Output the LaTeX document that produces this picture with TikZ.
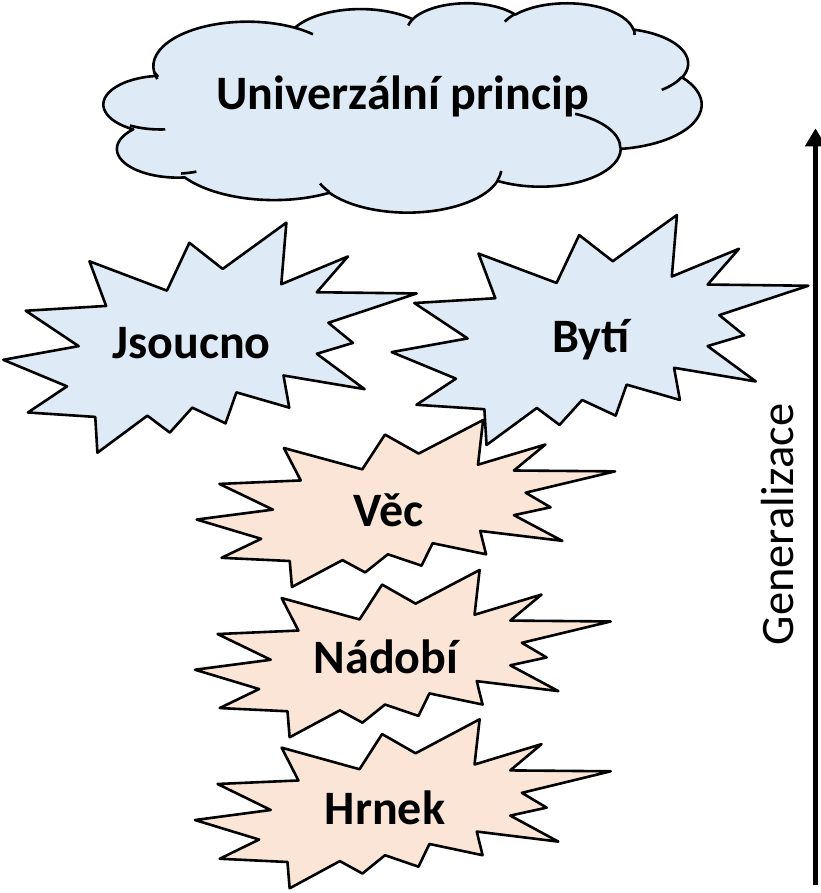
\documentclass[tikz,border=0pt]{standalone}
\usepackage{fontspec}
\setmainfont{Carlito}
\usetikzlibrary{arrows.meta}
\definecolor{sealblue}{HTML}{DEEBF7}
\definecolor{sealtan}{HTML}{FBE5D6}
\tikzset{
  outline/.style={draw=black, line width=2.6pt, line join=round},
  lbl/.style={font=\fontsize{48}{58}\selectfont\bfseries, anchor=base, inner sep=0pt},
  sidelbl/.style={font=\fontsize{46.5}{56}\selectfont, anchor=base, inner sep=0pt, rotate=90},
}
\newcommand\drawseal[5]{%
  \begin{scope}[shift={(#1,#2)}, xscale=#3/21.6, yscale=-#4/21.6]
    \filldraw[outline, fill=#5] (11.462,4.342) -- (14.790,0) -- (14.525,5.777) -- (18.007,3.172)
      -- (16.380,6.532) -- (21.600,6.645) -- (16.985,9.402) -- (18.270,11.290) -- (16.380,12.310)
      -- (18.877,15.632) -- (14.640,14.350) -- (14.942,17.370) -- (12.180,15.935) -- (11.612,18.842)
      -- (9.872,17.370) -- (8.700,19.712) -- (7.527,18.125) -- (4.917,21.600) -- (4.805,18.240)
      -- (1.285,17.825) -- (3.330,15.370) -- (0,12.877) -- (3.935,11.592) -- (1.172,8.270)
      -- (5.372,7.817) -- (4.502,3.625) -- (8.550,6.382) -- (9.722,1.887) -- cycle;
  \end{scope}}
\begin{document}
\begin{tikzpicture}[x=1pt,y=1pt]
\useasboundingbox (0,0) rectangle (820,893);
% cloud
\filldraw[outline, fill=sealblue] (154.2,820.8)
  arc[start angle=187.745, end angle=59.64, x radius=94.03pt, y radius=44.52pt]
  arc[start angle=152.03, end angle=45.44, x radius=74.26pt, y radius=35.20pt]
  arc[start angle=153.50, end angle=37.35, x radius=60.78pt, y radius=28.80pt]
  arc[start angle=139.71, end angle=10.21, x radius=67.63pt, y radius=31.95pt]
  arc[start angle=74.77, end angle=-23.21, x radius=74.26pt, y radius=35.23pt]
  arc[start angle=37.54, end angle=-81.86, x radius=94.33pt, y radius=44.67pt]
  arc[start angle=-0.46, end angle=-121.98, x radius=80.55pt, y radius=38.11pt]
  arc[start angle=-16.84, end angle=-146.23, x radius=94.02pt, y radius=44.64pt]
  arc[start angle=-58.98, end angle=-146.23, x radius=107.49pt, y radius=51.07pt]
  arc[start angle=276.69, end angle=136.89, x radius=60.71pt, y radius=28.67pt]
  arc[start angle=239.64, end angle=95.89, x radius=60.50pt, y radius=28.80pt]
  -- cycle;
\draw[outline] (165.25,763.59) arc[start angle=-85.55, end angle=-120.36, x radius=60.50pt, y radius=28.80pt];
\draw[outline] (196.37,721.33) arc[start angle=-68.24, end angle=-83.31, x radius=60.71pt, y radius=28.67pt];
\draw[outline] (329.34,701.03) arc[start angle=-146.23, end angle=-158.47, x radius=94.02pt, y radius=44.64pt];
\draw[outline] (501.29,722.05) arc[start angle=-4.74, end angle=-16.84, x radius=94.02pt, y radius=44.64pt];
\draw[outline] (575.11,779.20) arc[start angle=64.03, end angle=-0.46, x radius=80.55pt, y radius=38.11pt];
\draw[outline] (681.90,816.02) arc[start angle=-23.21, end angle=-49.64, x radius=74.26pt, y radius=35.23pt];
\draw[outline] (633.52,864.11) arc[start angle=10.21, end angle=-0.82, x radius=67.63pt, y radius=31.95pt];
\draw[outline] (504.78,871.26) arc[start angle=156.29, end angle=139.71, x radius=67.63pt, y radius=31.95pt];
\draw[outline] (408.19,867.53) arc[start angle=167.73, end angle=153.50, x radius=60.78pt, y radius=28.80pt];
\draw[outline] (294.84,865.25) arc[start angle=59.64, end angle=45.72, x radius=94.03pt, y radius=44.52pt];
\draw[outline] (157.36,813.91) arc[start angle=-163.19, end angle=-172.26, x radius=94.03pt, y radius=44.52pt];
\node[lbl] (univ) at (402.5,783) {Univerzální princip};
% explosions
\drawseal{3.3}{670.3}{413.4}{230}{sealblue}
\drawseal{196.7}{473}{418.3}{167}{sealtan}
\drawseal{391.7}{678}{416.6}{230}{sealblue}
\drawseal{195}{323}{415.7}{167.3}{sealtan}
\drawseal{195}{173.7}{415.7}{169}{sealtan}
\node[lbl] (jsoucno) at (191.5,534) {Jsoucno};
\node[lbl] (byti) at (591,540) {Bytí};
\node[lbl] (vec) at (389,366) {Věc};
\node[lbl] (nadobi) at (386,219) {Nádobí};
\node[lbl] (hrnek) at (385,68) {Hrnek};
% arrow
\coordinate (gbot) at (815.5,8);
\coordinate (gtop) at (815.5,764.7);
\draw[line width=5.5pt, -{Triangle[width=20pt,length=18pt]}] (gbot) -- (gtop);
\node[sidelbl] (gen) at (793.5,368.5) {Generalizace};
\end{tikzpicture}
\end{document}
